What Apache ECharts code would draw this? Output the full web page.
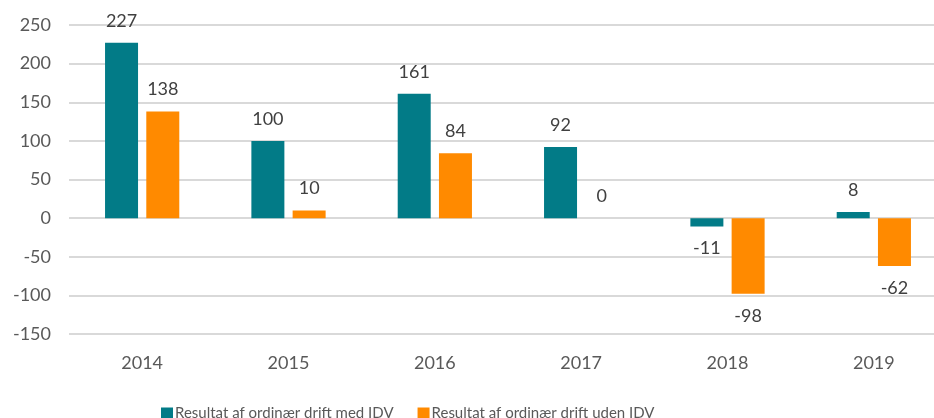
<!DOCTYPE html>
<html>
<head>
<meta charset="utf-8">
<script src="https://cdn.jsdelivr.net/npm/echarts@6/dist/echarts.min.js"></script>
<style>
  html, body { margin: 0; padding: 0; background: #fff; overflow: hidden; }
  #chart { width: 947px; height: 418px; }
</style>
</head>
<body>
<div id="chart"></div>
<script>
var years = ['2014', '2015', '2016', '2017', '2018', '2019'];
var medIDV = [227, 100, 161, 92, -11, 8];
var udenIDV = [138, 10, 84, 0, -98, -62];
var seriesNames = ['Resultat af ordinær drift med IDV', 'Resultat af ordinær drift uden IDV'];

var FONT = 'Lato';

function withLabels(values) {
    return values.map(function (v) {
        return { value: v, label: { position: v < 0 ? 'bottom' : 'top' } };
    });
}

var myChart = echarts.init(document.getElementById('chart'));

option = {
    animation: false,
    textStyle: { fontFamily: FONT },
    grid: { left: 69, right: 0, top: 25, bottom: 84, containLabel: false },
    legend: {
        left: 156,
        top: 401,
        itemWidth: 12,
        itemHeight: 12,
        itemGap: 24,
        icon: 'rect',
        textStyle: { fontFamily: FONT, fontSize: 15, color: '#595959', padding: [0, 0, 0, -3] },
        data: seriesNames
    },
    xAxis: {
        type: 'category',
        data: years,
        axisLine: { show: false },
        axisTick: { show: false },
        axisLabel: { fontFamily: FONT, fontSize: 18, color: '#595959', margin: 20 }
    },
    yAxis: {
        type: 'value',
        min: -150,
        max: 250,
        interval: 50,
        axisLine: { show: false },
        axisTick: { show: false },
        axisLabel: { fontFamily: FONT, fontSize: 18, color: '#595959', margin: 18 },
        splitLine: { lineStyle: { color: '#d9d9d9', width: 2 } }
    },
    series: [
        {
            name: seriesNames[0],
            type: 'bar',
            data: withLabels(medIDV),
            barWidth: 33,
            barGap: '25%',
            itemStyle: { color: '#027b87' },
            label: { show: true, distance: 13, fontFamily: FONT, fontSize: 18, color: '#404040' }
        },
        {
            name: seriesNames[1],
            type: 'bar',
            data: withLabels(udenIDV),
            barWidth: 33,
            barGap: '25%',
            itemStyle: { color: '#ff8a00' },
            label: { show: true, distance: 13, fontFamily: FONT, fontSize: 18, color: '#404040' }
        }
    ]
};

myChart.setOption(option, true);
</script>
</body>
</html>
